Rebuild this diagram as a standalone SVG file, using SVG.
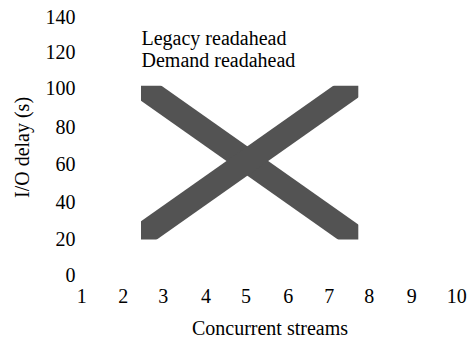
<svg xmlns="http://www.w3.org/2000/svg" width="468" height="338" viewBox="0 0 468 338">
  <style>
    text { font-family: 'Liberation Serif', Tinos, 'Times New Roman', 'DejaVu Serif', serif; font-size: 20px; fill: #000; }
    .yt { text-anchor: end; }
    .xt { text-anchor: middle; }
    .series { fill: none; stroke: #535353; stroke-width: 24; stroke-linecap: butt; }
  </style>
  <defs>
    <clipPath id="plotClip">
      <rect x="141" y="85.7" width="217.3" height="153.8"/>
    </clipPath>
  </defs>
  <rect width="468" height="338" fill="#fff"/>
  <g id="y-ticks">
    <text class="yt" x="75.5" y="23.5">140</text>
    <text class="yt" x="75.5" y="58.5">120</text>
    <text class="yt" x="75.5" y="95">100</text>
    <text class="yt" x="75.5" y="133.5">80</text>
    <text class="yt" x="75.5" y="171">60</text>
    <text class="yt" x="75.5" y="208.5">40</text>
    <text class="yt" x="75.5" y="245.5">20</text>
    <text class="yt" x="75.5" y="282">0</text>
  </g>
  <g id="x-ticks">
    <text class="xt" x="81.7" y="303">1</text>
    <text class="xt" x="123.3" y="303">2</text>
    <text class="xt" x="163.3" y="303">3</text>
    <text class="xt" x="206" y="303">4</text>
    <text class="xt" x="246" y="303">5</text>
    <text class="xt" x="288.3" y="303">6</text>
    <text class="xt" x="329.3" y="303">7</text>
    <text class="xt" x="369.3" y="303">8</text>
    <text class="xt" x="411.7" y="303">9</text>
    <text class="xt" x="456.7" y="303">10</text>
  </g>
  <g id="axis-titles">
    <text class="xt" x="270" y="335">Concurrent streams</text>
    <text class="xt" transform="translate(29,147.5) rotate(-90)">I/O delay (s)</text>
  </g>
  <g id="legend">
    <text x="141.5" y="45">Legacy readahead</text>
    <text x="141.5" y="66.7">Demand readahead</text>
  </g>
  <g id="series" clip-path="url(#plotClip)">
    <line id="legacy" class="series" x1="100" y1="57.1" x2="400" y2="268.6"/>
    <line id="demand" class="series" x1="100" y1="264.9" x2="400" y2="53.4"/>
  </g>
</svg>
